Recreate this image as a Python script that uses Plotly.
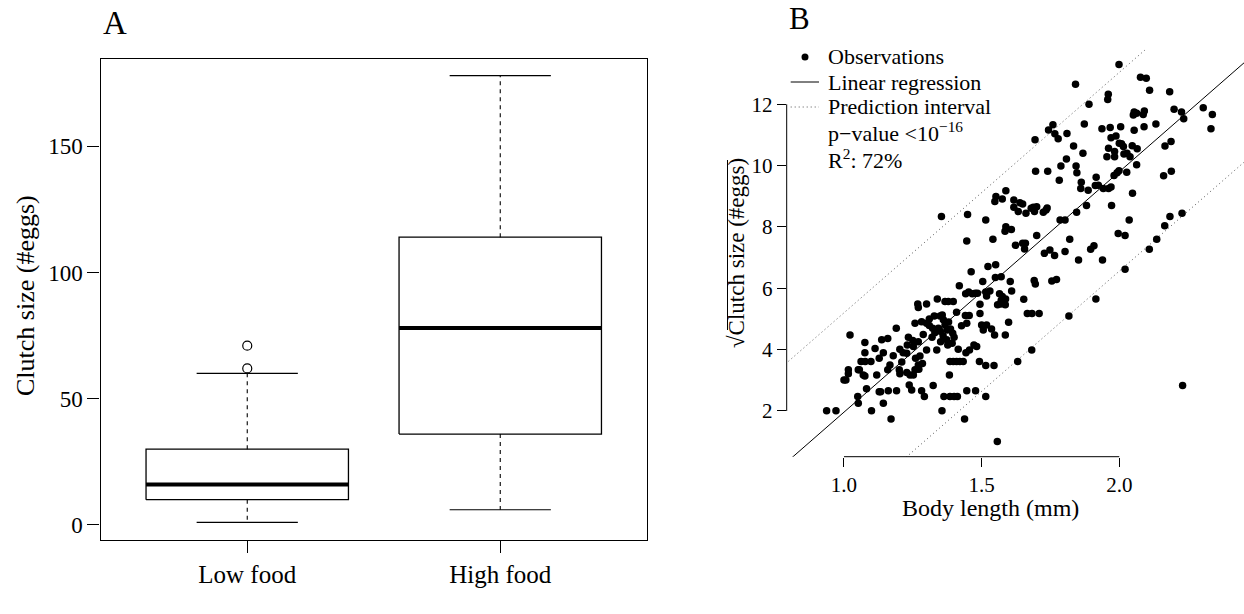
import plotly.graph_objects as go

W, H = 1244, 614
FONT = "Liberation Serif"

# ---------------- Panel A data (box plot summary) ----------------
groups = ["Low food", "High food"]
whisker_low = [1, 6]
quartile_1 = [10, 36]
medians = [16, 78]
quartile_3 = [30, 114]
whisker_high = [60, 178]
outliers_low_food = [62, 71]
yticks_a = [0, 50, 100, 150]

# ---------------- Panel B data (scatter) ----------------
body_length_mm = [
    # top
    1.999, 1.841, 2.077, 2.098, 2.110, 2.183, 1.960, 1.958, 1.890, 2.199,
    2.226, 2.305, 2.338, 2.054, 2.063, 2.091, 2.051, 2.087, 2.234, 2.333,
    2.133, 2.090, 2.054, 2.005, 1.967, 1.937, 1.873, 1.759, 1.743, 1.766,
    1.778, 1.810, 1.694, 1.834, 1.868, 1.988, 1.970, 1.961, 2.000, 2.008,
    2.015, 1.983, 2.028, 2.039, 2.017, 2.047, 2.065, 2.166, 2.188,
    # ~10
    1.955, 1.983, 1.696, 1.740, 1.788, 1.808, 1.843, 1.846, 1.992, 1.981,
    1.999, 2.027, 2.063, 2.161, 2.189,
    # ~9.3
    1.782, 1.862, 1.860, 1.887, 1.916, 1.924, 1.942, 1.913, 1.970, 1.961, 2.048,
    # 7.7-9.2
    1.552, 1.548, 1.588, 1.575, 1.617, 1.617, 1.639, 1.649, 1.661, 1.633,
    1.680, 1.688, 1.700, 1.692, 1.724, 1.734, 1.738, 1.785, 1.845, 1.881,
    1.972, 1.354, 1.449, 1.515, 1.803, 2.036, 2.184, 2.228, 2.165, 1.996, 2.021,
    # 6.9-8.0
    1.588, 1.585, 1.608, 1.700, 1.446, 1.541, 1.623, 1.649, 1.659, 1.656,
    1.728, 1.748, 1.765, 1.803, 1.820, 1.896, 1.908, 1.939, 1.852, 2.109, 2.136,
    # 5.5-6.8
    1.523, 1.551, 1.550, 1.571, 1.604, 1.462, 1.691, 1.695, 1.755, 1.772,
    1.419, 1.504, 1.515, 1.530, 1.442, 1.453, 1.466, 1.477, 1.485, 1.565,
    1.575, 1.587, 1.571, 1.609, 1.570, 1.653, 1.915, 2.021,
    # 5.0-5.7
    1.339, 1.268, 1.300, 1.367, 1.379, 1.397, 1.494, 1.518, 1.558, 1.586,
    1.270, 1.409, 1.441, 1.455, 1.494, 1.598, 1.666, 1.683, 1.709, 1.817,
    # 4.4-5.2
    1.328, 1.349, 1.357, 1.361, 1.258, 1.282, 1.300, 1.310, 1.322, 1.343,
    1.367, 1.375, 1.387, 1.395, 1.427, 1.446, 1.500, 1.518, 1.506, 1.536,
    1.547, 1.586, 1.190, 1.330, 1.360, 1.350, 1.320, 1.380, 1.310,
    # 3.8-4.5
    1.022, 1.076, 1.137, 1.159, 1.234, 1.252, 1.270, 1.288, 1.300, 1.337,
    1.351, 1.373, 1.377, 1.393, 1.415, 1.443, 1.456, 1.472, 1.482, 1.682,
    1.113, 1.143, 1.076, 1.203, 1.215, 1.228, 1.250, 1.230, 1.400,
    # 3.4-3.8
    1.062, 1.077, 1.098, 1.128, 1.179, 1.260, 1.276, 1.385, 1.397, 1.409,
    1.421, 1.433, 1.492, 1.631, 1.210, 1.285,
    # 2.8-3.5
    1.016, 1.016, 1.007, 1.000, 1.052, 1.056, 1.070, 1.076, 1.119, 1.159,
    1.167, 1.201, 1.203, 1.228, 1.240, 1.258, 1.270, 1.272, 1.252, 1.324,
    1.383, 1.515, 1.545,
    # 2.4-2.9
    1.082, 1.128, 1.133, 1.161, 1.050, 1.191, 1.237, 1.246, 1.282, 1.292,
    1.363, 1.385, 1.400, 1.412, 1.446, 1.478, 1.515, 2.230,
    # < 2.3
    1.052, 1.143, 0.937, 0.971, 1.100, 1.171, 1.356, 1.438, 1.557,
]
sqrt_clutch_size = [
    # top
    13.30, 12.65, 12.88, 12.85, 12.46, 12.41, 12.33, 12.16, 12.00, 11.84,
    11.75, 11.89, 11.67, 11.75, 11.71, 11.78, 11.65, 11.67, 11.53, 11.20,
    11.36, 11.27, 11.15, 11.27, 11.24, 11.20, 11.36, 11.33, 11.16, 11.04,
    10.88, 11.05, 10.84, 10.64, 10.40, 10.97, 10.91, 10.57, 10.73, 10.71,
    10.62, 10.46, 10.40, 10.29, 10.38, 10.65, 10.55, 10.64, 10.79,
    # ~10
    10.29, 10.29, 9.82, 9.82, 9.99, 10.22, 9.99, 9.77, 9.77, 9.68,
    9.83, 9.78, 10.03, 9.67, 9.82,
    # ~9.3
    9.52, 9.46, 9.25, 9.20, 9.62, 9.36, 9.25, 9.35, 9.30, 9.25, 9.10,
    # 7.7-9.2
    8.99, 8.83, 9.18, 8.91, 8.88, 8.64, 8.79, 8.75, 8.45, 8.50,
    8.61, 8.64, 8.66, 8.50, 8.48, 8.55, 8.62, 8.23, 8.48, 8.70,
    8.70, 8.34, 8.41, 8.23, 8.23, 8.23, 8.34, 8.45, 8.04, 7.79, 7.72,
    # 6.9-8.0
    8.01, 7.86, 7.92, 7.72, 7.54, 7.60, 7.40, 7.47, 7.47, 7.28,
    7.14, 7.25, 7.07, 7.20, 7.60, 7.27, 7.39, 6.92, 6.92, 7.27, 7.60,
    # 5.5-6.8
    6.71, 6.77, 6.35, 6.38, 6.22, 6.54, 6.25, 6.14, 6.24, 6.29,
    6.08, 6.22, 5.88, 5.91, 5.82, 5.88, 5.82, 5.84, 5.84, 5.82,
    5.73, 5.65, 5.60, 5.91, 5.49, 5.64, 5.65, 6.62,
    # 5.0-5.7
    5.65, 5.49, 5.49, 5.57, 5.57, 5.57, 5.48, 5.75, 5.46, 5.46,
    5.37, 5.22, 5.11, 5.11, 5.18, 4.89, 5.18, 5.18, 5.18, 5.10,
    # 4.4-5.2
    5.10, 5.10, 5.13, 4.97, 4.86, 4.91, 4.86, 4.79, 4.70, 4.70,
    4.80, 4.64, 4.67, 4.53, 4.78, 4.86, 4.80, 4.80, 4.64, 4.67,
    4.48, 4.48, 4.70, 4.55, 4.45, 4.60, 4.40, 4.90, 5.00,
    # 3.8-4.5
    4.48, 4.23, 4.32, 4.36, 4.40, 4.10, 4.26, 4.49, 3.99, 3.99,
    4.26, 4.32, 4.15, 4.21, 4.01, 3.90, 3.99, 4.15, 4.10, 3.99,
    4.04, 3.90, 3.90, 4.01, 3.90, 3.88, 4.30, 4.15, 4.40,
    # 3.4-3.8
    3.61, 3.61, 3.61, 3.72, 3.80, 3.72, 3.79, 3.61, 3.61, 3.61,
    3.61, 3.61, 3.61, 3.61, 3.60, 3.55,
    # 2.8-3.5
    3.34, 3.21, 3.01, 3.01, 3.34, 3.34, 3.17, 3.14, 3.17, 3.34,
    3.50, 3.34, 3.21, 3.25, 3.17, 3.34, 3.50, 3.36, 3.17, 2.83,
    3.17, 3.48, 3.48,
    # 2.4-2.9
    2.72, 2.63, 2.63, 2.66, 2.47, 2.66, 2.85, 2.68, 2.66, 2.47,
    2.47, 2.47, 2.47, 2.47, 2.66, 2.66, 2.47, 2.83,
    # < 2.3
    2.25, 2.25, 2.01, 2.01, 2.01, 1.74, 2.01, 1.74, 1.00,
]
assert len(body_length_mm) == len(sqrt_clutch_size)

reg_intercept = -5.88
reg_slope = 7.84
pred_interval_halfwidth = 3.24
xticks_b = [1.0, 1.5, 2.0]
yticks_b = [2, 4, 6, 8, 10, 12]
legend_labels = ["Observations", "Linear regression", "Prediction interval",
                 "p\u2212value <10<sup>\u221216</sup>", "R<sup>2</sup>: 72%"]

# ---------------- helpers (pixel -> paper) ----------------
def px(x):
    return x / W

def py(y):
    return 1 - y / H

fig = go.Figure()

# ---------------- Panel A ----------------
half_box = 0.4
half_staple = 0.2
for i, g in enumerate(groups):
    c = i + 1
    fig.add_trace(go.Scatter(
        x=[c - half_box, c + half_box, c + half_box, c - half_box, c - half_box],
        y=[quartile_1[i], quartile_1[i], quartile_3[i], quartile_3[i], quartile_1[i]],
        mode="lines", line=dict(color="black", width=1.3),
        xaxis="x", yaxis="y", showlegend=False, hoverinfo="skip"))
    fig.add_trace(go.Scatter(
        x=[c - half_box, c + half_box], y=[medians[i], medians[i]],
        mode="lines", line=dict(color="black", width=4),
        xaxis="x", yaxis="y", showlegend=False, hoverinfo="skip"))
    for a, b in [(quartile_3[i], whisker_high[i]), (quartile_1[i], whisker_low[i])]:
        fig.add_trace(go.Scatter(
            x=[c, c], y=[a, b], mode="lines",
            line=dict(color="black", width=1.1, dash="4px,4px"),
            xaxis="x", yaxis="y", showlegend=False, hoverinfo="skip"))
    for v in [whisker_high[i], whisker_low[i]]:
        fig.add_trace(go.Scatter(
            x=[c - half_staple, c + half_staple], y=[v, v], mode="lines",
            line=dict(color="black", width=1.2),
            xaxis="x", yaxis="y", showlegend=False, hoverinfo="skip"))

fig.add_trace(go.Scatter(
    x=[1] * len(outliers_low_food), y=outliers_low_food, mode="markers",
    marker=dict(symbol="circle-open", size=9, color="black", line=dict(width=1.2)),
    xaxis="x", yaxis="y", showlegend=False, hoverinfo="skip"))

# ---------------- Panel B ----------------
xr_b = [0.792, 2.453]
yr_b = [0.508, 13.79]
line_x = [xr_b[0] - 0.3, xr_b[1] + 0.3]
fit_y = [reg_intercept + reg_slope * v for v in line_x]
fig.add_trace(go.Scatter(x=line_x, y=fit_y, mode="lines",
                         line=dict(color="black", width=1),
                         xaxis="x2", yaxis="y2", showlegend=False, hoverinfo="skip"))
for sgn in (1, -1):
    fig.add_trace(go.Scatter(
        x=line_x, y=[v + sgn * pred_interval_halfwidth for v in fit_y], mode="lines",
        line=dict(color="#555555", width=1, dash="1px,3px"),
        xaxis="x2", yaxis="y2", showlegend=False, hoverinfo="skip"))

fig.add_trace(go.Scatter(
    x=body_length_mm, y=sqrt_clutch_size, mode="markers",
    marker=dict(size=7.5, color="black", line=dict(width=0)),
    xaxis="x2", yaxis="y2", showlegend=False, hoverinfo="skip"))

# ---------------- Layout ----------------
axis_font_a = dict(family=FONT, size=23, color="black")
fig.update_layout(
    width=W, height=H, margin=dict(l=0, r=0, t=0, b=0),
    paper_bgcolor="white", plot_bgcolor="white",
    font=dict(family=FONT, color="black"),
    xaxis=dict(domain=[px(100.5), px(647)], range=[0.42, 2.58], anchor="y",
               tickvals=[1, 2], ticktext=groups, ticks="outside", ticklen=12,
               tickwidth=1.2, tickcolor="black", showline=True, mirror=True,
               linecolor="black", linewidth=1.3, showgrid=False, zeroline=False,
               tickfont=dict(family=FONT, size=25, color="black")),
    yaxis=dict(domain=[py(540.3), py(58.5)], range=[-6.1, 184.8], anchor="x",
               tickvals=yticks_a, ticks="outside", ticklen=12, tickwidth=1.2,
               tickcolor="black", showline=True, mirror=True, linecolor="black",
               linewidth=1.3, showgrid=False, zeroline=False, tickfont=axis_font_a),
    xaxis2=dict(domain=[px(786.7), 1.0], range=xr_b, anchor="y2",
                tickvals=xticks_b, tickformat=".1f", ticks="outside", ticklen=9,
                tickwidth=1, tickcolor="black", showline=False, showgrid=False,
                zeroline=False, tickfont=dict(family=FONT, size=21, color="black")),
    yaxis2=dict(domain=[py(456.7), py(49.4)], range=yr_b, anchor="x2",
                tickvals=yticks_b, ticks="outside", ticklen=9, tickwidth=1,
                tickcolor="black", showline=False, showgrid=False, zeroline=False,
                tickfont=dict(family=FONT, size=21, color="black")),
)

shapes = [
    # detached R-style axis lines for panel B
    dict(type="line", xref="x2 domain", yref="y2", x0=0, x1=0, y0=yticks_b[0], y1=yticks_b[-1],
         line=dict(color="black", width=1)),
    dict(type="line", xref="x2", yref="y2 domain", x0=xticks_b[0], x1=xticks_b[-1], y0=0, y1=0,
         line=dict(color="black", width=1)),
    # legend keys
    dict(type="circle", xref="paper", yref="paper", x0=px(801.5), x1=px(808.5),
         y0=py(60.5), y1=py(53.5), fillcolor="black", line=dict(width=0)),
    dict(type="line", xref="paper", yref="paper", x0=px(790.7), x1=px(819), y0=py(82), y1=py(82),
         line=dict(color="black", width=1)),
    dict(type="line", xref="paper", yref="paper", x0=px(790.7), x1=px(819), y0=py(107), y1=py(107),
         line=dict(color="#555555", width=1, dash="1px,3px")),
    # overline of the square root in the panel B y title
    dict(type="line", xref="paper", yref="paper", x0=px(727.5), x1=px(727.5), y0=py(160), y1=py(330),
         line=dict(color="black", width=1)),
]
fig.update_layout(shapes=shapes)

annotations = []
def ann(text, x, y, size, xanchor="center", angle=0):
    annotations.append(dict(text=text, x=px(x), y=py(y), xref="paper", yref="paper",
                            xanchor=xanchor, yanchor="middle", showarrow=False,
                            textangle=angle, font=dict(family=FONT, size=size, color="black")))

ann("A", 101, 23, 33, xanchor="left")
ann("B", 787, 18, 31, xanchor="left")
ann("Clutch size (#eggs)", 25, 296, 26, angle=-90)
ann("\u221aClutch size (#eggs)", 737, 253, 23, angle=-90)
ann("Body length (mm)", 990, 508, 24)
legend_y = [56, 82, 107, 132, 159]
for lab, yy in zip(legend_labels, legend_y):
    ann(lab, 826, yy, 22, xanchor="left")
fig.update_layout(annotations=annotations)

fig.write_html("out.html")
